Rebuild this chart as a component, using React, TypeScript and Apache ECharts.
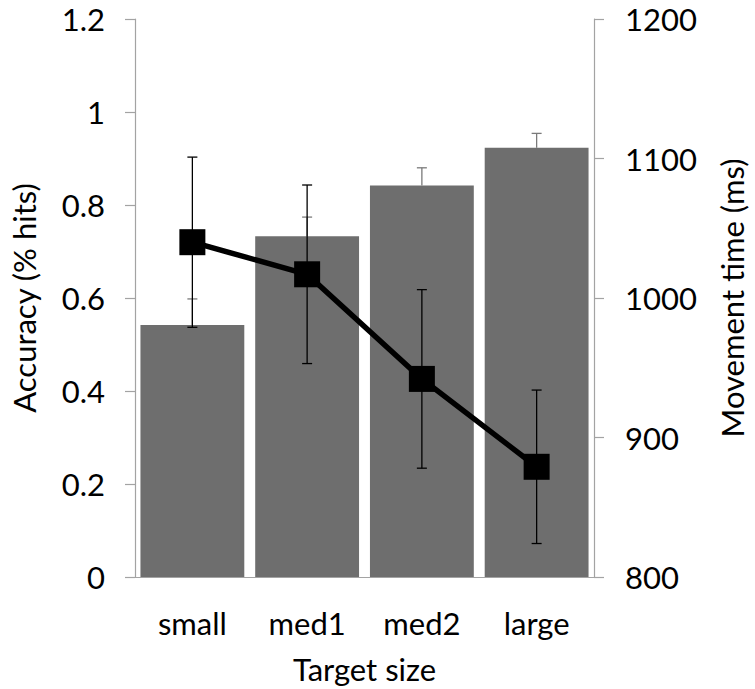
import React, { useEffect, useRef } from "react";
import * as echarts from "echarts";

const categories = ["small", "med1", "med2", "large"];
const accuracy = [0.542, 0.733, 0.842, 0.923];
const accuracyErr = [0.056, 0.041, 0.038, 0.031];
const movementTime = [1040, 1017, 942, 879];
const movementErr = [61, 64, 64, 55];
const leftTicks = { min: 0, max: 1.2, interval: 0.2 };
const rightTicks = { min: 800, max: 1200, interval: 100 };

const FONT = "Lato";
const FS = 31;
const AXIS_COLOR = "#a3a3a3";

export default function App() {
  const ref = useRef<HTMLDivElement>(null);
  useEffect(() => {
    document.body.style.margin = "0";
    const chart = echarts.init(ref.current!, undefined, { renderer: "svg" });

    const errRender = (color: string, both: boolean) => (params: any, api: any) => {
      const i = api.value(0);
      const v = api.value(1);
      const e = api.value(2);
      const top = api.coord([i, v + e]);
      const bottom = both ? api.coord([i, v - e]) : api.coord([i, v]);
      const hw = 5;
      const style = { stroke: color, lineWidth: 1.3 };
      const children: any[] = [
        { type: "line", shape: { x1: top[0], y1: top[1], x2: bottom[0], y2: bottom[1] }, style },
        { type: "line", shape: { x1: top[0] - hw, y1: top[1], x2: top[0] + hw, y2: top[1] }, style },
      ];
      if (both) {
        children.push({
          type: "line",
          shape: { x1: bottom[0] - hw, y1: bottom[1], x2: bottom[0] + hw, y2: bottom[1] },
          style,
        });
      }
      return { type: "group", children };
    };

    const labelStyle = { color: "#000", fontSize: FS, fontFamily: FONT, lineHeight: 24 };
    const nameStyle = { color: "#000", fontSize: FS, fontFamily: FONT };

    chart.setOption({
      animation: false,
      textStyle: { fontFamily: FONT },
      grid: { left: 128, right: 150, top: 19, bottom: 111, containLabel: false },
      xAxis: {
        type: "category",
        data: categories,
        axisLine: { show: true, lineStyle: { color: AXIS_COLOR, width: 1.2 } },
        axisTick: { show: false },
        axisLabel: { ...labelStyle, lineHeight: 32, margin: 30 },
        name: "Target size",
        nameLocation: "middle",
        nameGap: 76,
        nameTextStyle: nameStyle,
      },
      yAxis: [
        {
          type: "value",
          min: leftTicks.min,
          max: leftTicks.max,
          interval: leftTicks.interval,
          position: "left",
          axisLine: { show: true, lineStyle: { color: AXIS_COLOR, width: 1.2 } },
          axisTick: { show: true, inside: false, length: 10, lineStyle: { color: AXIS_COLOR, width: 1.2 } },
          splitLine: { show: false },
          axisLabel: { ...labelStyle, margin: 30 },
          name: "Accuracy (% hits)",
          nameLocation: "middle",
          nameRotate: 90,
          nameGap: 96,
          nameTextStyle: { ...nameStyle, verticalAlign: "bottom" },
        },
        {
          type: "value",
          min: rightTicks.min,
          max: rightTicks.max,
          interval: rightTicks.interval,
          position: "right",
          axisLine: { show: true, lineStyle: { color: AXIS_COLOR, width: 1.2 } },
          axisTick: { show: true, inside: false, length: 10, lineStyle: { color: AXIS_COLOR, width: 1.2 } },
          splitLine: { show: false },
          axisLabel: { ...labelStyle, margin: 31, formatter: (v: number) => String(v) },
          name: "Movement time (ms)",
          nameLocation: "middle",
          nameRotate: 90,
          nameGap: 122,
          nameTextStyle: { ...nameStyle, verticalAlign: "top" },
        },
      ],
      series: [
        {
          type: "bar",
          yAxisIndex: 0,
          data: accuracy,
          barCategoryGap: "9.5%",
          itemStyle: { color: "#6e6e6e" },
          z: 1,
        },
        {
          type: "custom",
          yAxisIndex: 0,
          data: accuracy.map((v, i) => [i, v, accuracyErr[i]]),
          renderItem: errRender("#7a7a7a", false),
          z: 2,
        },
        {
          type: "custom",
          yAxisIndex: 1,
          data: movementTime.map((v, i) => [i, v, movementErr[i]]),
          renderItem: errRender("#000", true),
          z: 3,
        },
        {
          type: "line",
          yAxisIndex: 1,
          data: movementTime,
          symbol: "rect",
          symbolSize: 26,
          itemStyle: { color: "#000" },
          lineStyle: { color: "#000", width: 5.5 },
          z: 4,
        },
      ],
    });
    return () => chart.dispose();
  }, []);
  return <div ref={ref} style={{ width: 755, height: 689 }} />;
}
